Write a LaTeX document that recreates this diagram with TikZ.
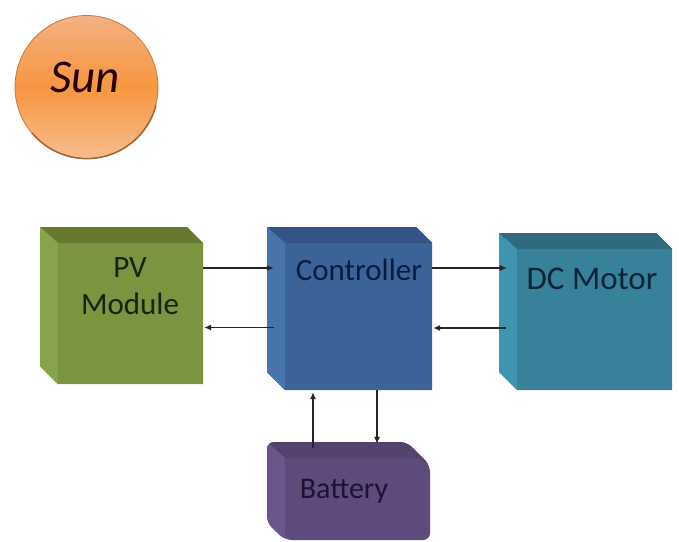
\documentclass[tikz,border=0pt]{standalone}
\usepackage{fontspec}
\setmainfont{Carlito}
\usetikzlibrary{fit,arrows.meta}

\definecolor{sunlight}{HTML}{F4B183}
\definecolor{sunmid}{HTML}{F7963F}
\definecolor{sunlow}{HTML}{F8BC8E}
\definecolor{sunrim}{HTML}{9C6A3A}
\definecolor{pvfront}{HTML}{7A9440}
\definecolor{pvtop}{HTML}{67792F}
\definecolor{pvside}{HTML}{87A34B}
\definecolor{pvtext}{HTML}{17240C}
\definecolor{ctrlfront}{HTML}{3C6397}
\definecolor{ctrltop}{HTML}{345387}
\definecolor{ctrlside}{HTML}{4874AC}
\definecolor{ctrltext}{HTML}{0C1C40}
\definecolor{dcfront}{HTML}{37829A}
\definecolor{dctop}{HTML}{2F6A7E}
\definecolor{dcside}{HTML}{3F95B0}
\definecolor{dctext}{HTML}{0B2438}
\definecolor{batfront}{HTML}{5F4A7C}
\definecolor{battop}{HTML}{54426E}
\definecolor{batside}{HTML}{6C558A}
\definecolor{battext}{HTML}{1E1232}

\tikzset{
	blocklabel/.style={font=\fontsize{31}{34}\selectfont, align=center},
	link/.style={->, line width=1.1pt, color=black!85},
}

\begin{document}
\begin{tikzpicture}[>={Latex[length=7pt,width=6pt]}, x=1pt, y=-1pt]

	\useasboundingbox (0,0) rectangle (679,541);

	% === SUN === (((
	\node (sun) [circle, minimum size=143pt, inner sep=0pt, draw=sunrim!60!sunmid, thick,
		top color=sunlight, bottom color=sunlow, middle color=sunmid] at (86.5,87) {};
	\draw [sunrim, line width=1.5pt, line cap=round] (sun.-15) arc [start angle=-15, end angle=-140, radius=71.5pt];
	\node (sunlabel) [font=\fontsize{47}{50}\selectfont\itshape, black!85!red] at (85,77) {Sun};
	% )))

	% === BLOCKS === (((
	\foreach \nm/\xa/\ya/\xb/\yb in {pv/40/227/203/384, ctrl/267/227/432/390, dc/499/233/672/390} {
		\fill [\nm front] (\xa,\ya) -- (\xb-16,\ya) -- (\xb,\ya+16) -- (\xb,\yb) -- (\xa+18,\yb) -- (\xa,\yb-18) -- cycle;
		\fill [\nm top] (\xa,\ya) -- (\xb-16,\ya) -- (\xb,\ya+16) -- (\xa+18,\ya+16) -- cycle;
		\fill [\nm side] (\xa,\ya) -- (\xa+18,\ya+16) -- (\xa+18,\yb) -- (\xa,\yb-18) -- cycle;
		\node (\nm) [fit={(\xa,\ya) (\xb,\yb)}, inner sep=0pt] {};
	}
	% )))

	% === BATTERY === (((
	\fill [batfront, rounded corners=7pt] (267,442) -- (407,442) -- (430,465) -- (430,540) -- (285,540) -- (267,523) -- cycle;
	\begin{scope}
		\clip [rounded corners=7pt] (267,442) -- (407,442) -- (430,465) -- (430,540) -- (285,540) -- (267,523) -- cycle;
		\fill [battop] (267,442) -- (407,442) -- (430,465) -- (418,458) -- (285,458) -- cycle;
		\fill [batside] (267,442) -- (285,458) -- (285,540) -- (267,523) -- cycle;
	\end{scope}
	\node (bat) [fit={(267,442) (430,540)}, inner sep=0pt] {};
	% )))

	% === LABELS === (((
	\node (pvlabel) [blocklabel, pvtext, text width=120pt] at (130,286) {PV\\[3pt]Module};
	\node (ctrllabel) [blocklabel, ctrltext] at (359,270) {Controller};
	\node (dclabel) [blocklabel, dctext, font=\fontsize{33}{36}\selectfont] at (592,279) {DC Motor};
	\node (batlabel) [blocklabel, battext, font=\fontsize{30}{34}\selectfont] at (344,491) {Battery};
	% )))

	% === ARROWS === (((
	\draw [link] ([yshift=37.5]pv.east) -- ([xshift=7,yshift=40.5]ctrl.west);
	\draw [link] ([xshift=7,yshift=-19]ctrl.west) -- ([xshift=1,yshift=-22]pv.east);
	\draw [link] ([yshift=40.5]ctrl.east) -- ([xshift=8,yshift=43.5]dc.west);
	\draw [link] ([xshift=7,yshift=-16.5]dc.west) -- ([xshift=1,yshift=-19.5]ctrl.east);
	\draw [link] ([xshift=-35.5,yshift=-6]bat.north) -- ([xshift=-36.5,yshift=-2]ctrl.south);
	\draw [link] ([xshift=27.5]ctrl.south) -- ([xshift=28.5,yshift=-2]bat.north);
	% )))

\end{tikzpicture}
\end{document}
